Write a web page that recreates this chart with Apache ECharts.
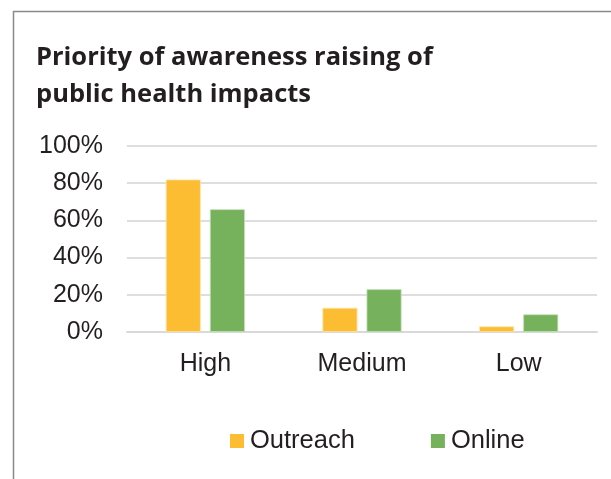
<!DOCTYPE html>
<html>
<head>
<meta charset="utf-8">
<script src="https://cdn.jsdelivr.net/npm/echarts@6/dist/echarts.min.js"></script>
<style>
  html, body { margin: 0; padding: 0; background: #fff; }
  #chart { width: 611px; height: 479px; }
</style>
</head>
<body>
<div id="chart"></div>
<script>
  // data
  const categories = ['High', 'Medium', 'Low']
  const outreach = [82, 13, 3]
  const online = [66, 23, 9.5]
  const yTicks = [0, 20, 40, 60, 80, 100]

  const labelFont = "'Liberation Sans', Arial, sans-serif"

  const chart = echarts.init(document.getElementById('chart'))

  const option = {
    animation: false,
    title: {
      text: 'Priority of awareness raising of\npublic health impacts',
      left: 36,
      top: 39,
      padding: 0,
      textStyle: {
        fontFamily: "'Open Sans', sans-serif",
        fontSize: 25.5,
        fontWeight: 'bold',
        lineHeight: 37,
        color: '#231f20'
      }
    },
    // frame around the chart (top and left edges only are visible)
    graphic: [
      { type: 'line', shape: { x1: 13, y1: 11.5, x2: 611, y2: 11.5 }, style: { stroke: '#8a8a8a', lineWidth: 1.5 } },
      { type: 'line', shape: { x1: 13.5, y1: 11, x2: 13.5, y2: 479 }, style: { stroke: '#8a8a8a', lineWidth: 1.5 } }
    ],
    legend: {
      left: 225,
      top: 423,
      itemWidth: 14,
      itemHeight: 14,
      itemGap: 76,
      icon: 'rect',
      data: ['Outreach', 'Online'],
      itemStyle: { borderWidth: 0 },
      textStyle: {
        fontFamily: labelFont,
        fontSize: 25.5,
        color: '#231f20',
        padding: [0, 0, 0, 1]
      }
    },
    grid: {
      left: 127,
      right: 14,
      top: 146,
      bottom: 147
    },
    xAxis: {
      type: 'category',
      data: categories,
      axisLine: { lineStyle: { color: '#d9d9d9', width: 2 } },
      axisTick: { show: false },
      axisLabel: {
        margin: 20,
        fontFamily: labelFont,
        fontSize: 25,
        color: '#231f20'
      }
    },
    yAxis: {
      type: 'value',
      min: yTicks[0],
      max: yTicks[yTicks.length - 1],
      interval: 20,
      axisLine: { show: false },
      axisTick: { show: false },
      splitLine: { lineStyle: { color: '#dedede', width: 2 } },
      axisLabel: {
        margin: 24,
        fontFamily: labelFont,
        fontSize: 25,
        color: '#231f20',
        formatter: '{value}%'
      }
    },
    series: [
      {
        name: 'Outreach',
        type: 'bar',
        data: outreach,
        barWidth: 35,
        barGap: '26%',
        itemStyle: { color: '#fdbd32', borderColor: '#fee3a6', borderWidth: 0.8 }
      },
      {
        name: 'Online',
        type: 'bar',
        data: online,
        barWidth: 35,
        barGap: '26%',
        itemStyle: { color: '#75b25b', borderColor: '#c3dfb6', borderWidth: 0.8 }
      }
    ]
  }

  chart.setOption(option)
</script>
</body>
</html>
